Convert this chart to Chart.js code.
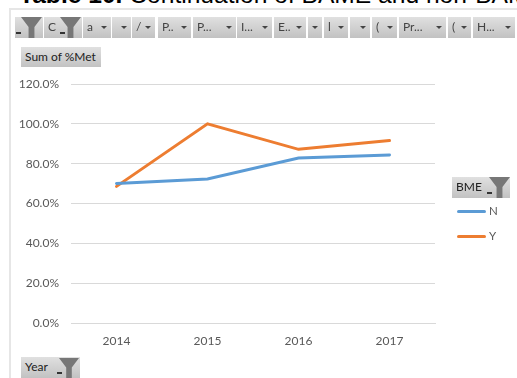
<!DOCTYPE html>
<html>
<head>
<meta charset="utf-8">
<script src="https://cdn.jsdelivr.net/npm/chart.js@4"></script>
<style>
html, body {margin: 0; background: #fff; overflow: hidden;}
#page {position: relative; width: 517px; height: 378px; overflow: hidden;}
#title {position: absolute; left: 19px; top: -19px; font: 24.6px "Liberation Sans", Arial, sans-serif; color: #000; white-space: nowrap;}
#frame {position: absolute; left: 9px; top: 8px; width: 520px; height: 380px; border-left: 2px solid #e6e6e6; border-top: 2px solid #e6e6e6;}
#canvasBox {position: absolute; left: 0; top: 0; width: 517px; height: 378px;}
.btn, .label {position: absolute; background: linear-gradient(#e0e0e0, #c2c2c2); font: 12px Lato, sans-serif; color: #444; height: 21px; line-height: 20px; white-space: nowrap; overflow: hidden;}
.btn span.t {position: absolute; left: 4px; top: 0;}
.btn span.a {position: absolute; right: 4px; top: 9px; width: 0; height: 0; border-left: 3px solid transparent; border-right: 3px solid transparent; border-top: 3px solid #444;}
.fn {position: absolute; background: #777; clip-path: polygon(0 0, 100% 0, 64% 48%, 64% 100%, 36% 100%, 36% 48%);}
.flecha {position: absolute; width: 5px; height: 2px; background: #333;}
.label {color: #222;}
.label span {margin-left: 4px;}
.linea {position: absolute; left: 457px; width: 29px; height: 3px; border-radius: 2px;}
.serie {position: absolute; left: 489px; font: 11.5px Lato, sans-serif; color: #595959;}
</style>
</head>
<body>
<div id="page">
  <div id="title"><b>Table 10.</b> Continuation of BAME and non-BAME</div>
  <div id="frame"></div>
  <div id="canvasBox"><canvas id="grafico" width="517" height="378"></canvas></div>
  <div id="filtros"></div>
  <div id="leyenda"></div>
  <div class="label" style="left:21px;top:47px;width:80px;height:20px;"><span>Sum of %Met</span></div>
  <div class="label" style="left:452px;top:177px;width:58px;"><span>BME</span></div>
  <div class="flecha" style="left:487px;top:192px;"></div>
  <div class="fn" style="left:489px;top:177px;width:21px;height:21px;"></div>
  <div class="label" style="left:21px;top:357px;width:59px;"><span>Year</span></div>
  <div class="flecha" style="left:57px;top:372px;"></div>
  <div class="fn" style="left:59px;top:358px;width:20px;height:20px;"></div>
</div>
<script>
const anios = ['2014', '2015', '2016', '2017'];
const serieN = [70.1, 72.3, 82.8, 84.4];
const serieY = [68.6, 100, 87.2, 91.6];
const leyenda = ['N', 'Y'];
const colores = ['#5b9bd5', '#ed7d31'];
const filtros = [
  ['', 15, 28, true], ['C', 44, 15], ['', 59, 23, true], ['a', 83, 28], ['', 112, 19], ['/', 132, 23],
  ['P..', 158, 33], ['P...', 193, 43], ['I...', 237, 35], ['E..', 274, 32], ['', 308, 14], ['l', 324, 24],
  ['', 350, 20], ['(', 372, 25], ['Pr...', 399, 47], ['(', 448, 23], ['H...', 473, 42]
];

// botones de filtro de la tabla dinamica
const cajaFiltros = document.getElementById('filtros');
filtros.forEach(f => {
  const b = document.createElement('div');
  b.className = 'btn';
  b.style.left = f[1] + 'px';
  b.style.top = '17px';
  b.style.width = f[2] + 'px';
  if (f[3]) {
    b.innerHTML = '<div class="flecha" style="left:1px;top:15px"></div><div class="fn" style="right:1px;top:0;width:21px;height:21px"></div>';
  } else {
    b.innerHTML = '<span class="t">' + f[0] + '</span>' + (f[2] > 15 || f[0] === '' ? '<span class="a"></span>' : '');
  }
  cajaFiltros.appendChild(b);
});

// leyenda junto a la etiqueta BME
const cajaLeyenda = document.getElementById('leyenda');
leyenda.forEach((t, i) => {
  const y = 211 + i * 25;
  cajaLeyenda.innerHTML += '<div class="linea" style="top:' + (y - 1) + 'px;background:' + colores[i] + '"></div>' +
    '<div class="serie" style="top:' + (y - 7) + 'px">' + t + '</div>';
});

const ctx = document.getElementById('grafico');
new Chart(ctx, {
  type: 'line',
  data: {
    labels: anios,
    datasets: [
      {label: leyenda[0], data: serieN, borderColor: colores[0], borderWidth: 3, pointRadius: 0, tension: 0, borderCapStyle: 'round'},
      {label: leyenda[1], data: serieY, borderColor: colores[1], borderWidth: 3, pointRadius: 0, tension: 0, borderCapStyle: 'round'}
    ]
  },
  options: {
    responsive: false,
    animation: false,
    layout: {padding: {left: 0, right: 82, top: 84, bottom: 0}},
    plugins: {
      legend: {display: false},
      tooltip: {enabled: false}
    },
    scales: {
      x: {
        offset: true,
        afterFit: s => { s.height = 55; },
        grid: {display: false},
        border: {color: '#d9d9d9'},
        ticks: {color: '#595959', font: {family: 'Lato', size: 12}, padding: 3, maxRotation: 0}
      },
      y: {
        min: 0,
        max: 120,
        afterFit: s => { s.width = 71; },
        grid: {color: '#d9d9d9', drawTicks: false},
        border: {display: false},
        ticks: {stepSize: 20, color: '#595959', font: {family: 'Lato', size: 12}, padding: 12, callback: v => v.toFixed(1) + '%'}
      }
    }
  }
});
</script>
</body>
</html>
